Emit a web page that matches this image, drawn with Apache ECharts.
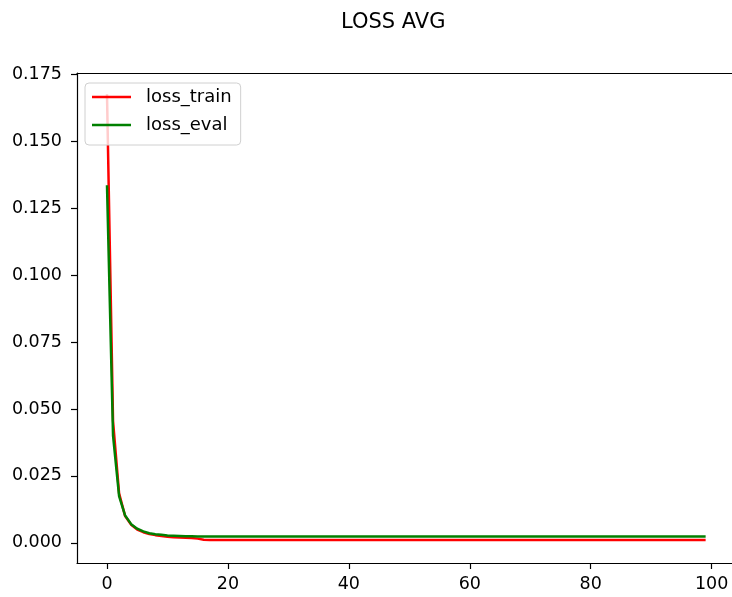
<!DOCTYPE html>
<html>
<head>
<meta charset="utf-8">
<script src="https://cdn.jsdelivr.net/npm/echarts@6/dist/echarts.min.js"></script>
<style>html,body{margin:0;padding:0;background:#fff}#c{width:732px;height:597px}</style>
</head>
<body>
<div id="c"></div>
<script>
const titleText = 'LOSS AVG';
const seriesNames = ['loss_train', 'loss_eval'];
const xTicks = [0, 20, 40, 60, 80, 100];
const yTicks = [0, 0.025, 0.05, 0.075, 0.1, 0.125, 0.15, 0.175];
const lossTrain = [
  0.1675, 0.0455, 0.0185, 0.0100, 0.0068, 0.0050, 0.0040, 0.0033, 0.0029, 0.0026,
  0.0023, 0.0021, 0.0020, 0.0019, 0.0018, 0.0016, 0.0012, 0.0011, 0.0011, 0.0011,
  0.0011, 0.0011, 0.0011, 0.0011, 0.0011, 0.0011, 0.0011, 0.0011, 0.0011, 0.0011,
  0.0011, 0.0011, 0.0011, 0.0011, 0.0011, 0.0011, 0.0011, 0.0011, 0.0011, 0.0011,
  0.0011, 0.0011, 0.0011, 0.0011, 0.0011, 0.0011, 0.0011, 0.0011, 0.0011, 0.0011,
  0.0011, 0.0011, 0.0011, 0.0011, 0.0011, 0.0011, 0.0011, 0.0011, 0.0011, 0.0011,
  0.0011, 0.0011, 0.0011, 0.0011, 0.0011, 0.0011, 0.0011, 0.0011, 0.0011, 0.0011,
  0.0011, 0.0011, 0.0011, 0.0011, 0.0011, 0.0011, 0.0011, 0.0011, 0.0011, 0.0011,
  0.0011, 0.0011, 0.0011, 0.0011, 0.0011, 0.0011, 0.0011, 0.0011, 0.0011, 0.0011,
  0.0011, 0.0011, 0.0011, 0.0011, 0.0011, 0.0011, 0.0011, 0.0011, 0.0011, 0.0011
];
const lossEval = [
  0.1335, 0.0400, 0.0175, 0.0102, 0.0070, 0.0053, 0.0043, 0.0036, 0.0032, 0.0030,
  0.0028, 0.0027, 0.0026, 0.0025, 0.0025, 0.0024, 0.0024, 0.0024, 0.0024, 0.0024,
  0.0024, 0.0024, 0.0024, 0.0024, 0.0024, 0.0024, 0.0024, 0.0024, 0.0024, 0.0024,
  0.0024, 0.0024, 0.0024, 0.0024, 0.0024, 0.0024, 0.0024, 0.0024, 0.0024, 0.0024,
  0.0024, 0.0024, 0.0024, 0.0024, 0.0024, 0.0024, 0.0024, 0.0024, 0.0024, 0.0024,
  0.0024, 0.0024, 0.0024, 0.0024, 0.0024, 0.0024, 0.0024, 0.0024, 0.0024, 0.0024,
  0.0024, 0.0024, 0.0024, 0.0024, 0.0024, 0.0024, 0.0024, 0.0024, 0.0024, 0.0024,
  0.0024, 0.0024, 0.0024, 0.0024, 0.0024, 0.0024, 0.0024, 0.0024, 0.0024, 0.0024,
  0.0024, 0.0024, 0.0024, 0.0024, 0.0024, 0.0024, 0.0024, 0.0024, 0.0024, 0.0024,
  0.0024, 0.0024, 0.0024, 0.0024, 0.0024, 0.0024, 0.0024, 0.0024, 0.0024, 0.0024
];

const FONT = 'DejaVu Sans';
const toPairs = arr => arr.map((v, i) => [i, v]);

const chart = echarts.init(document.getElementById('c'), null, {renderer: 'canvas'});
chart.setOption({
  animation: false,
  backgroundColor: '#ffffff',
  title: {
    text: titleText, left: 336, top: 7,
    textStyle: {fontFamily: FONT, fontSize: 21, fontWeight: 'normal', color: '#000'}
  },
  grid: {left: 77, right: 0, top: 73, bottom: 34, containLabel: false},
  legend: {
    orient: 'vertical', left: 85, top: 83,
    padding: [5, 9, 11, 7], itemGap: 10,
    itemWidth: 39, itemHeight: 2.5, icon: 'rect',
    backgroundColor: 'rgba(255,255,255,0.8)', borderColor: '#d0d0d0', borderWidth: 1, borderRadius: 4,
    textStyle: {fontFamily: FONT, fontSize: 18, color: '#000', padding: [0, 0, 0, 10]},
    data: seriesNames
  },
  xAxis: [{
    type: 'value', min: -4.96, max: 103.36,
    splitLine: {show: false},
    axisLine: {show: true, onZero: false, lineStyle: {color: '#000', width: 1.2}},
    axisTick: {show: true, length: 6, customValues: xTicks, lineStyle: {color: '#000', width: 1.2}},
    axisLabel: {customValues: xTicks, margin: 12, fontFamily: FONT, fontSize: 17.5, color: '#000'}
  }, {
    type: 'value', position: 'top', min: -4.96, max: 103.36,
    splitLine: {show: false},
    axisLine: {show: true, onZero: false, lineStyle: {color: '#000', width: 1.2}},
    axisTick: {show: false}, axisLabel: {show: false}
  }],
  yAxis: {
    type: 'value', min: -0.0075, max: 0.1754,
    splitLine: {show: false},
    axisLine: {show: true, onZero: false, lineStyle: {color: '#000', width: 1.2}},
    axisTick: {show: true, length: 6, customValues: yTicks, lineStyle: {color: '#000', width: 1.2}},
    axisLabel: {customValues: yTicks, margin: 15, fontFamily: FONT, fontSize: 17.5, color: '#000',
      padding: [3, 0, 0, 0], formatter: v => v.toFixed(3)}
  },
  series: [{
    name: seriesNames[0], type: 'line', xAxisIndex: 0, data: toPairs(lossTrain),
    showSymbol: false, symbol: 'none', color: '#ff0000',
    lineStyle: {color: '#ff0000', width: 2.5}
  }, {
    name: seriesNames[1], type: 'line', xAxisIndex: 0, data: toPairs(lossEval),
    showSymbol: false, symbol: 'none', color: '#008000',
    lineStyle: {color: '#008000', width: 2.5}
  }]
});
</script>
</body>
</html>
